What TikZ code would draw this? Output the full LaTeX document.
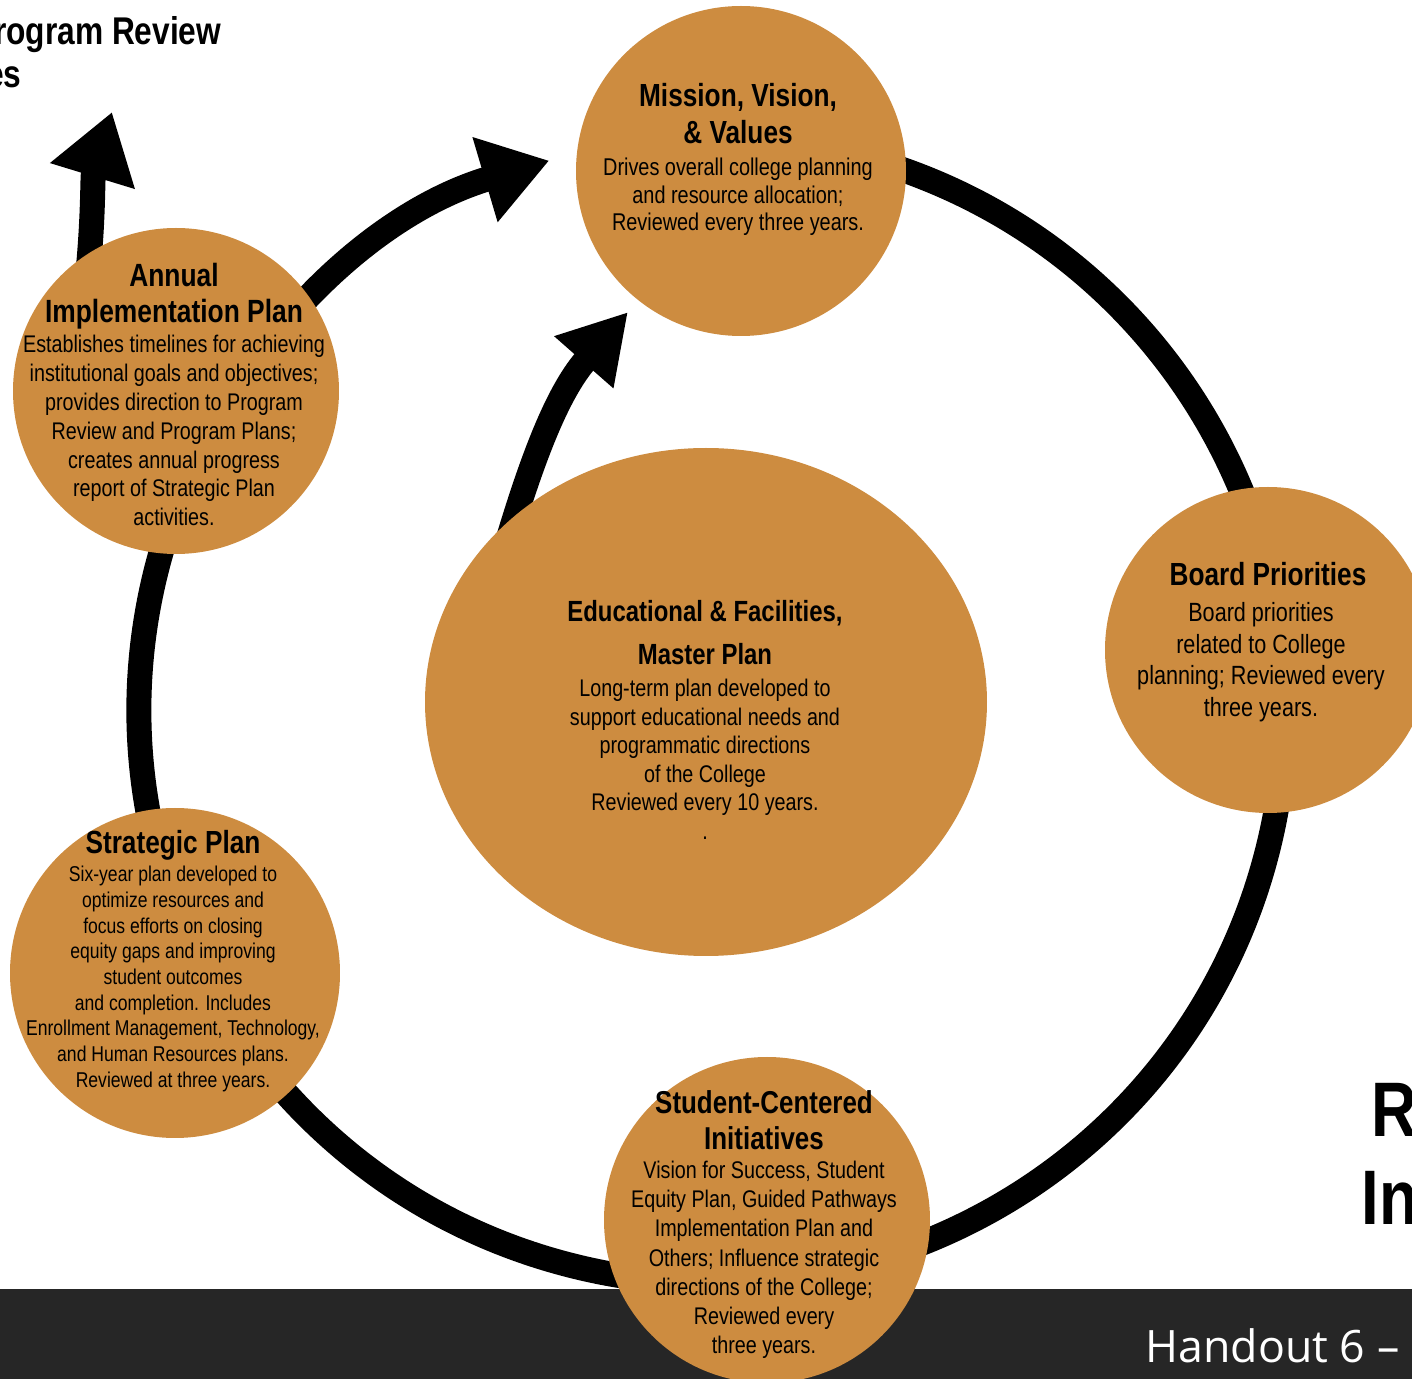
\documentclass[tikz,border=0pt]{standalone}
\usepackage{fontspec}
\setmainfont[FakeStretch=0.82]{Liberation Sans}
\newfontfamily\footfont{Open Sans}
\usetikzlibrary{arrows.meta,shapes.geometric,backgrounds}

\definecolor{planorange}{RGB}{205,140,64}
\definecolor{footgray}{RGB}{38,38,38}

\newcommand{\bodysize}[2]{\fontsize{#1}{#2}\selectfont\lineskiplimit=-20pt}
\newcommand{\headsize}[1]{\bfseries\fontsize{#1}{#1}\selectfont}

\tikzset{
  bubble/.style={circle, fill=planorange, inner sep=0pt},
  cyclearrow/.style={line width=2.5mm, -{Triangle[length=6.7mm,width=#1]}},
  cyclearrow/.default=8.4mm,
  bubbletext/.style={align=center, inner sep=0pt, anchor=north},
}

\begin{document}
\begin{tikzpicture}[x=0.1mm, y=-0.1mm]
	\useasboundingbox (0,0) rectangle (1412,1379);
	
	% footer bar
	\fill[footgray] (0,1289) rectangle (1412,1379);
	\node[anchor=base west, inner sep=0pt, text=white, font=\footfont\fontsize{12.7}{14}\selectfont] (handout) at (1145,1363) {Handout 6 –};
	
	% cut-off titles
	\node[anchor=base east, inner sep=0pt, font=\headsize{11}] (prtitle-a) at (222,45) {Program Review};
	\node[anchor=base east, inner sep=0pt, font=\headsize{11}] (prtitle-b) at (22,88) {es};
	\node[anchor=base west, inner sep=0pt, font=\headsize{22}] (rtitle-a) at (1371,1137) {R};
	\node[anchor=base west, inner sep=0pt, font=\headsize{22}] (rtitle-b) at (1361,1225) {In};
	
	% the planning cycle
	\coordinate (ring) at (712,710);
	\coordinate (review) at (112,112);
	\coordinate (mvv-in) at (628,312);
	
	\node[bubble, minimum size=33mm] (mission) at (741,171) {};
	\node[bubble, minimum size=32.6mm] (annual) at (176,391) {};
	\node[bubble, minimum size=32.6mm] (board) at (1268,650) {};
	\node[bubble, minimum size=33mm] (strategic) at (175,973) {};
	\node[bubble, minimum size=32.6mm] (student) at (767,1220) {};
	\node[ellipse, fill=planorange, inner sep=0pt, minimum width=56.2mm, minimum height=50.8mm] (edu) at (706,702) {};
	
	\begin{scope}[on background layer]
		\draw[cyclearrow] (ring) ++(285:573) arc[start angle=285, end angle=613.5, radius=573];
		\draw[cyclearrow] ([yshift=-3mm]annual.123) to[out=84, in=253] (review);
		\draw[cyclearrow=7.4mm] ([yshift=-4mm]edu.140) .. controls (528,470) and (555,395) .. (mvv-in);
	\end{scope}
	
	\node[bubbletext, font=\bodysize{6.9}{7.8}] (mission-txt) at (738,83) {%
		{\headsize{9.1}Mission, Vision,}\\[2.7pt]
		{\headsize{9.1}\& Values}\\[1.3pt]
		Drives overall college planning\\
		and resource allocation;\\
		Reviewed every three years.};
	
	\node[bubbletext, font=\bodysize{6.85}{8.2}] (annual-txt) at (174,262) {%
		{\headsize{9.15}Annual}\\[2.3pt]
		{\headsize{9.15}Implementation Plan}\\[0.3pt]
		Establishes timelines for achieving\\
		institutional goals and objectives;\\
		provides direction to Program\\
		Review and Program Plans;\\
		creates annual progress\\
		report of Strategic Plan\\
		activities.};
	
	\node[bubbletext, font=\bodysize{7.5}{9.1}] (board-txt) at (1261,562) {%
		{\headsize{9.1}\hspace*{4pt}Board Priorities}\\[0.9pt]
		Board priorities\\
		related to College\\
		planning; Reviewed every\\
		three years.};
	
	\node[bubbletext, font=\bodysize{6.1}{7.3}] (strategic-txt) at (173,830) {%
		{\headsize{9.1}Strategic Plan}\\[0.7pt]
		Six-year plan developed to\\
		optimize resources and\\
		focus efforts on closing\\
		equity gaps and improving\\
		student outcomes\\
		and completion. Includes\\
		Enrollment Management, Technology,\\
		and Human Resources plans.\\
		Reviewed at three years.};
	
	\node[bubbletext, font=\bodysize{6.85}{8.3}] (student-txt) at (764,1090) {%
		{\headsize{9}Student-Centered}\\[1.9pt]
		{\headsize{9}Initiatives}\\
		Vision for Success, Student\\
		Equity Plan, Guided Pathways\\
		Implementation Plan and\\
		Others; Influence strategic\\
		directions of the College;\\
		Reviewed every\\
		three years.};
	
	\node[bubbletext, font=\bodysize{6.85}{8.1}] (edu-txt) at (705,600) {%
		{\headsize{8.3}Educational \& Facilities,}\\[4.1pt]
		{\headsize{8.3}Master Plan}\\[1pt]
		Long-term plan developed to\\
		support educational needs and\\
		programmatic directions\\
		of the College\\
		Reviewed every 10 years.\\
		.};
\end{tikzpicture}
\end{document}
